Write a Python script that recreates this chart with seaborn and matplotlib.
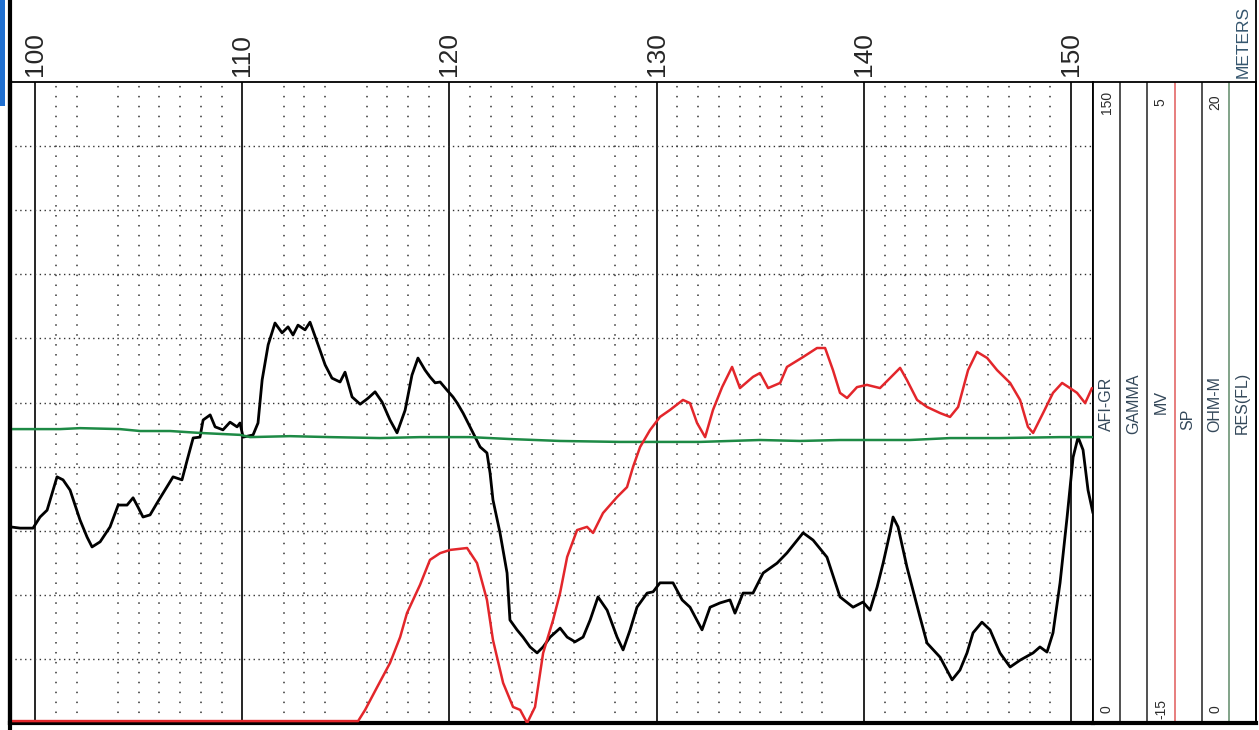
import numpy as np
import pandas as pd
import matplotlib
matplotlib.use("Agg")
import matplotlib.pyplot as plt
from matplotlib.lines import Line2D
from matplotlib.patches import Rectangle
import seaborn as sns

# ---------------- log data ----------------
depth_ticks = [100, 110, 120, 130, 140, 150]
minor_depths = [101, 102, 104, 105, 106, 107, 108, 109,
                112, 113, 114, 116, 117, 118, 119,
                121, 122, 123, 124, 125, 126, 128, 129,
                131, 132, 133, 134, 135, 136, 137, 138,
                141, 142, 143, 144, 145, 146, 147, 148, 149]

# gamma ray (API), 0-150 scale
gr_depth = [98.79, 99.28, 99.90, 100.24, 100.58, 101.06, 101.35, 101.69, 102.17, 102.51,
            102.75, 103.14, 103.62, 104.01, 104.44, 104.73, 104.97, 105.21, 105.55, 105.89,
            106.18, 106.66, 107.09, 107.34, 107.63, 107.96, 108.11, 108.45, 108.69, 109.07,
            109.41, 109.75, 109.89, 110.04, 110.52, 110.76, 110.96, 111.25, 111.58, 111.92,
            112.21, 112.45, 112.69, 113.03, 113.27, 113.66, 114.00, 114.33, 114.72, 114.96,
            115.30, 115.69, 116.07, 116.41, 116.75, 117.13, 117.47, 117.86, 118.19, 118.48,
            118.82, 119.06, 119.31, 119.55, 119.88, 120.17, 120.37, 120.66, 121.14, 121.48,
            121.81, 121.96, 122.10, 122.44, 122.78, 122.92, 123.26, 123.55, 123.89, 124.23,
            124.52, 124.86, 125.34, 125.68, 126.06, 126.45, 126.79, 127.17, 127.61, 128.09,
            128.38, 128.72, 129.05, 129.54, 129.83, 130.16, 130.79, 131.23, 131.61, 132.19,
            132.58, 133.06, 133.54, 133.78, 134.17, 134.65, 135.14, 135.81, 136.29, 137.07,
            137.55, 138.22, 138.85, 139.48, 139.96, 140.30, 140.64, 140.93, 141.26, 141.41,
            141.65, 142.08, 142.71, 143.05, 143.68, 144.26, 144.64, 144.98, 145.27, 145.70,
            146.09, 146.57, 147.06, 147.54, 148.17, 148.50, 148.84, 149.13, 149.47, 149.81,
            150.10, 150.34, 150.58, 150.82, 151.06]
gr_api = [45.9, 45.6, 45.6, 48.2, 49.8, 57.6, 56.9, 54.5, 47.5, 43.5,
          41.2, 42.4, 45.9, 51.0, 51.0, 52.7, 50.5, 48.2, 48.7, 51.5,
          53.8, 57.6, 56.9, 61.5, 66.7, 66.9, 70.9, 72.1, 69.3, 68.6,
          70.4, 69.3, 70.2, 66.9, 67.4, 70.2, 80.3, 88.5, 93.6, 91.3,
          92.7, 90.8, 93.1, 92.0, 93.8, 88.5, 83.8, 80.7, 79.8, 82.1,
          76.3, 74.6, 76.0, 77.5, 75.1, 70.9, 67.9, 73.2, 81.4, 85.4,
          82.6, 81.0, 79.6, 79.8, 77.9, 76.3, 74.9, 72.5, 67.9, 64.6,
          63.2, 58.5, 52.2, 44.5, 35.1, 24.1, 21.8, 20.1, 17.8, 16.4,
          17.8, 20.1, 22.2, 20.1, 19.0, 20.1, 24.1, 29.5, 26.4, 20.1,
          17.1, 21.8, 27.1, 30.4, 30.7, 32.8, 32.8, 28.8, 27.1, 21.8,
          27.1, 28.1, 28.8, 25.7, 30.4, 30.4, 35.1, 37.4, 39.8, 44.5,
          42.8, 38.8, 29.5, 27.1, 28.3, 26.4, 31.8, 37.4, 44.5, 48.2,
          45.9, 36.5, 24.8, 18.7, 15.4, 10.1, 12.4, 16.4, 21.1, 23.6,
          21.8, 16.4, 13.1, 14.7, 16.4, 17.8, 16.6, 21.1, 32.8, 48.2,
          62.2, 66.9, 63.9, 54.5, 49.1]

# spontaneous potential (mV), -15 to 5 scale
sp_depth = [98.79, 115.59, 115.93, 116.51, 117.13, 117.62, 117.95, 118.58, 119.06, 119.55,
            120.03, 120.85, 121.33, 121.81, 122.10, 122.59, 123.07, 123.41, 123.75, 124.13,
            124.52, 125.00, 125.34, 125.68, 126.16, 126.64, 126.93, 127.41, 128.09, 128.57,
            128.86, 129.20, 129.68, 130.16, 130.65, 131.27, 131.61, 131.95, 132.34, 132.72,
            133.16, 133.64, 134.02, 134.65, 134.99, 135.38, 135.96, 136.29, 137.07, 137.74,
            138.13, 138.51, 138.85, 139.19, 139.67, 140.15, 140.78, 141.26, 141.75, 142.08,
            142.57, 143.05, 143.68, 144.16, 144.55, 145.03, 145.46, 145.95, 146.43, 147.06,
            147.54, 147.92, 148.17, 148.65, 149.13, 149.57, 149.95, 150.29, 150.68, 151.01]
sp_mv = [-14.94, -14.94, -14.59, -13.88, -13.13, -12.32, -11.57, -10.69, -9.91, -9.70,
         -9.60, -9.54, -10.01, -11.16, -12.41, -13.75, -14.50, -14.59, -15.00, -14.50,
         -12.82, -11.79, -10.94, -9.82, -8.98, -8.88, -9.07, -8.45, -7.95, -7.64,
         -7.01, -6.39, -5.86, -5.45, -5.23, -4.92, -5.02, -5.64, -6.08, -5.23,
         -4.52, -3.89, -4.55, -4.20, -4.08, -4.55, -4.39, -3.89, -3.58, -3.30,
         -3.30, -3.99, -4.70, -4.86, -4.52, -4.45, -4.55, -4.24, -3.92, -4.30,
         -4.92, -5.14, -5.33, -5.45, -5.14, -3.99, -3.42, -3.61, -3.99, -4.39,
         -4.92, -5.76, -5.95, -5.33, -4.70, -4.39, -4.55, -4.70, -5.02, -4.55]

# flushed-zone resistivity (ohm-m), 0-20 scale
res_depth = [98.79, 101.21, 102.17, 104.10, 105.07, 106.52, 107.96, 109.89, 110.38, 112.30,
             114.24, 116.65, 118.58, 120.99, 122.92, 125.34, 128.23, 132.09, 134.99, 136.92,
             138.85, 142.23, 144.16, 146.57, 149.47, 151.01]
res_ohmm = [9.17, 9.17, 9.20, 9.17, 9.11, 9.11, 9.05, 8.99, 8.92, 8.95,
            8.92, 8.89, 8.92, 8.92, 8.86, 8.80, 8.77, 8.77, 8.83, 8.80,
            8.83, 8.83, 8.89, 8.89, 8.92, 8.92]

# header / scale annotations
track_cols = ["AFI-GR", "GAMMA", "MV", "SP", "OHM-M", "RES(FL)"]
scale_top = {0: "150", 2: "5", 4: "20"}
scale_bot = {0: "0", 2: "-15", 4: "0"}

# ---------------- styling ----------------
sns.set_style("white")
plt.rcParams["font.family"] = ["Liberation Sans", "DejaVu Sans"]

W, H = 1259, 730
fig = plt.figure(figsize=(W / 100, H / 100), dpi=100)
fig.patch.set_facecolor("white")

x0, x1, ytop, ybot = 10, 1093, 82, 723
ax = fig.add_axes([x0 / W, (H - ybot) / H, (x1 - x0) / W, (ybot - ytop) / H])
ax.set_xlim(98.79, 151.06)
ax.set_ylim(0, 150)

# grid: dotted meters, solid decameters, dotted tenths of the scale
for d in minor_depths:
    ax.axvline(d, color="#333333", lw=1.1, ls=(0, (1, 5.5)), zorder=1)
for d in depth_ticks:
    ax.axvline(d, color="black", lw=1.2, zorder=1)
for v in np.arange(15, 150, 15):
    ax.axhline(v, color="#333333", lw=1.0, ls=(0, (1, 2.5)), zorder=1)

gr_df = pd.DataFrame({"depth": gr_depth, "gr": gr_api})
sp_df = pd.DataFrame({"depth": sp_depth, "sp": sp_mv})
res_df = pd.DataFrame({"depth": res_depth, "res": res_ohmm})

ax_res = ax.twinx()
ax_res.set_ylim(0, 20)
ax_sp = ax.twinx()
ax_sp.set_ylim(-15, 5)

sns.lineplot(data=res_df, x="depth", y="res", ax=ax_res, color="#1d8a45",
             lw=1.8, sort=False, estimator=None, zorder=3)
sns.lineplot(data=sp_df, x="depth", y="sp", ax=ax_sp, color="#e3262b",
             lw=1.8, sort=False, estimator=None, zorder=3)
sns.lineplot(data=gr_df, x="depth", y="gr", ax=ax, color="black",
             lw=2.0, sort=False, estimator=None, zorder=4)

for a in (ax_res, ax_sp):
    a.set_yticks([])
    a.set_ylabel("")
    a.set_xlabel("")
    for s in a.spines.values():
        s.set_visible(False)
ax_sp.set_zorder(ax.get_zorder() + 1)
ax_res.set_zorder(ax.get_zorder() + 1)

ax.set_ylabel("")
ax.set_xlabel("")
ax.set_yticks([])
ax.set_xticks(depth_ticks)
ax.set_xticklabels([str(d) for d in depth_ticks], rotation=90, fontsize=19)
ax.xaxis.set_ticks_position("top")
ax.tick_params(axis="x", length=0, pad=4, top=True, bottom=False,
               labeltop=True, labelbottom=False)
for lbl in ax.get_xticklabels():
    lbl.set_va("bottom")
for name, s in ax.spines.items():
    s.set_color("black")
    s.set_linewidth(1.3)
ax.spines["bottom"].set_linewidth(3.0)
ax.spines["left"].set_linewidth(3.0)

# ---------------- scale track on the right ----------------
xr1 = 1256
axr = fig.add_axes([x1 / W, (H - ybot) / H, (xr1 - x1) / W, (ybot - ytop) / H])
axr.set_xlim(0, 6)
axr.set_ylim(0, 1)
axr.set_xticks([])
axr.set_yticks([])
for name, s in axr.spines.items():
    s.set_color("black")
    s.set_linewidth(1.3)
axr.spines["bottom"].set_linewidth(3.0)
div_colors = {1: "#222222", 2: "#222222", 3: "#e05a5a", 4: "#222222", 5: "#5f8a68"}
for xv, c in div_colors.items():
    axr.axvline(xv, color=c, lw=1.1)

txt_col = "#34485a"
lbl_y = [0.498, 0.498, 0.50, 0.474, 0.498, 0.50]
for i, name in enumerate(track_cols):
    axr.text(i + 0.5, lbl_y[i], name, rotation=90, ha="center", va="center",
             fontsize=11.5, color=txt_col)
for i, t in scale_top.items():
    axr.text(i + 0.5, 0.968, t, rotation=90, ha="center", va="center",
             fontsize=10, color="#2b2b2b")
for i, t in scale_bot.items():
    axr.text(i + 0.5, 0.022, t, rotation=90, ha="center", va="center",
             fontsize=10, color="#2b2b2b")

fig.text(1243 / W, 1 - 42 / H, "METERS", rotation=90, ha="center", va="center",
         fontsize=12.5, color="#35566e")

# sheet borders
fig.add_artist(Line2D([9.5 / W, 9.5 / W], [0, 1], color="black", lw=3.0))
fig.add_artist(Line2D([xr1 / W, xr1 / W], [(H - ybot) / H, 1], color="black", lw=1.3))
fig.add_artist(Rectangle((0, 1 - 106 / H), 5 / W, 106 / H, color="#1f6fd0", lw=0))

fig.savefig("out.png", dpi=100)
